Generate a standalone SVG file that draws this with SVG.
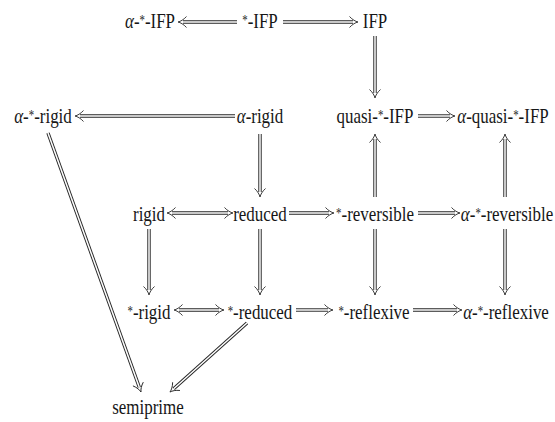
<svg xmlns="http://www.w3.org/2000/svg" width="555" height="422" viewBox="0 0 555 422">
<style>
text{font-family:"Liberation Serif","DejaVu Serif",serif;font-size:22px;fill:#161616;text-anchor:middle}
.a{font-style:italic}
.s{font-size:14px}
.o{stroke:#262626;stroke-width:3.4;fill:none;stroke-linecap:butt}
.i{stroke:#fff;stroke-width:1.5;fill:none;stroke-linecap:butt}
</style>
<defs>
<marker id="h" markerUnits="userSpaceOnUse" markerWidth="14" markerHeight="14" viewBox="-5 -7 12 14" refX="0" refY="0" orient="auto-start-reverse">
<path d="M-3.5,-5.5 C-0.5,-2.2 2.5,-0.6 5,0 C2.5,0.6 -0.5,2.2 -3.5,5.5" fill="none" stroke="#262626" stroke-width="0.9"/>
</marker>
</defs>
<g id="connectors">
<g id="c1"><path class="o" d="M237,22 H183" marker-end="url(#h)"/><path class="i" d="M237,22 H183"/></g>
<g id="c2"><path class="o" d="M283,22 H353" marker-end="url(#h)"/><path class="i" d="M283,22 H353"/></g>
<g id="c3"><path class="o" d="M375,36 V93" marker-end="url(#h)"/><path class="i" d="M375,36 V93"/></g>
<g id="c4"><path class="o" d="M235,116 H80" marker-end="url(#h)"/><path class="i" d="M235,116 H80"/></g>
<g id="c5"><path class="o" d="M418,116 H450" marker-end="url(#h)"/><path class="i" d="M418,116 H450"/></g>
<g id="c6"><path class="o" d="M260,134 V192" marker-end="url(#h)"/><path class="i" d="M260,134 V192"/></g>
<g id="c7"><path class="o" d="M375,197 V139" marker-end="url(#h)"/><path class="i" d="M375,197 V139"/></g>
<g id="c8"><path class="o" d="M505,197 V139" marker-end="url(#h)"/><path class="i" d="M505,197 V139"/></g>
<g id="c9"><path class="o" d="M172,213 H228" marker-start="url(#h)" marker-end="url(#h)"/><path class="i" d="M172,213 H228"/></g>
<g id="c10"><path class="o" d="M289,213 H329" marker-end="url(#h)"/><path class="i" d="M289,213 H329"/></g>
<g id="c11"><path class="o" d="M418,213 H455" marker-end="url(#h)"/><path class="i" d="M418,213 H455"/></g>
<g id="c12"><path class="o" d="M149,229 V290" marker-end="url(#h)"/><path class="i" d="M149,229 V290"/></g>
<g id="c13"><path class="o" d="M260,229 V290" marker-end="url(#h)"/><path class="i" d="M260,229 V290"/></g>
<g id="c14"><path class="o" d="M375,229 V290" marker-end="url(#h)"/><path class="i" d="M375,229 V290"/></g>
<g id="c15"><path class="o" d="M505,229 V290" marker-end="url(#h)"/><path class="i" d="M505,229 V290"/></g>
<g id="c16"><path class="o" d="M179,310 H219" marker-start="url(#h)" marker-end="url(#h)"/><path class="i" d="M179,310 H219"/></g>
<g id="c17"><path class="o" d="M296,310 H328" marker-end="url(#h)"/><path class="i" d="M296,310 H328"/></g>
<g id="c18"><path class="o" d="M413,310 H457" marker-end="url(#h)"/><path class="i" d="M413,310 H457"/></g>
<g id="c19"><path class="o" d="M48,133 L139.3,387.3" marker-end="url(#h)"/><path class="i" d="M48,133 L139.3,387.3"/></g>
<g id="c20"><path class="o" d="M247,323 L173.7,388.7" marker-end="url(#h)"/><path class="i" d="M247,323 L173.7,388.7"/></g>
</g>
<g id="n-astar-ifp" transform="translate(150,28) scale(0.77,1)"><text><tspan class="a">α</tspan>-<tspan class="s" dy="-3">*</tspan><tspan dy="3">-IFP</tspan></text></g>
<g id="n-star-ifp" transform="translate(260,28) scale(0.77,1)"><text><tspan class="s" dy="-3">*</tspan><tspan dy="3">-IFP</tspan></text></g>
<g id="n-ifp" transform="translate(375,28) scale(0.77,1)"><text>IFP</text></g>
<g id="n-astar-rigid" transform="translate(43,123) scale(0.77,1)"><text><tspan class="a">α</tspan>-<tspan class="s" dy="-3">*</tspan><tspan dy="3">-rigid</tspan></text></g>
<g id="n-a-rigid" transform="translate(260,123) scale(0.77,1)"><text><tspan class="a">α</tspan>-rigid</text></g>
<g id="n-quasi" transform="translate(375,123) scale(0.77,1)"><text>quasi-<tspan class="s" dy="-3">*</tspan><tspan dy="3">-IFP</tspan></text></g>
<g id="n-a-quasi" transform="translate(503,123) scale(0.77,1)"><text><tspan class="a">α</tspan>-quasi-<tspan class="s" dy="-3">*</tspan><tspan dy="3">-IFP</tspan></text></g>
<g id="n-rigid" transform="translate(149,221) scale(0.77,1)"><text>rigid</text></g>
<g id="n-reduced" transform="translate(260,221) scale(0.77,1)"><text>reduced</text></g>
<g id="n-star-rev" transform="translate(375,221) scale(0.77,1)"><text><tspan class="s" dy="-3">*</tspan><tspan dy="3">-reversible</tspan></text></g>
<g id="n-astar-rev" transform="translate(507,221) scale(0.77,1)"><text><tspan class="a">α</tspan>-<tspan class="s" dy="-3">*</tspan><tspan dy="3">-reversible</tspan></text></g>
<g id="n-star-rigid" transform="translate(149,319) scale(0.77,1)"><text><tspan class="s" dy="-3">*</tspan><tspan dy="3">-rigid</tspan></text></g>
<g id="n-star-reduced" transform="translate(260,319) scale(0.77,1)"><text><tspan class="s" dy="-3">*</tspan><tspan dy="3">-reduced</tspan></text></g>
<g id="n-star-refl" transform="translate(374,319) scale(0.77,1)"><text><tspan class="s" dy="-3">*</tspan><tspan dy="3">-reflexive</tspan></text></g>
<g id="n-astar-refl" transform="translate(506,319) scale(0.77,1)"><text><tspan class="a">α</tspan>-<tspan class="s" dy="-3">*</tspan><tspan dy="3">-reflexive</tspan></text></g>
<g id="n-semiprime" transform="translate(148,414) scale(0.77,1)"><text>semiprime</text></g>
</svg>
